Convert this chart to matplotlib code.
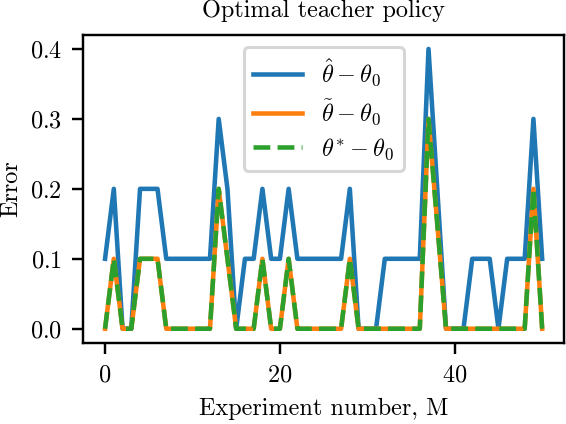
import matplotlib
matplotlib.use("Agg")
import matplotlib.pyplot as plt
import numpy as np

plt.rcParams['font.family'] = 'serif'
plt.rcParams['font.serif'] = ['cmr10']
plt.rcParams['mathtext.fontset'] = 'cm'
plt.rcParams['axes.formatter.use_mathtext'] = True
plt.rcParams['font.size'] = 8

experiments = list(range(51))

theta_hat_err = [0.1, 0.2, 0.0, 0.0, 0.2, 0.2, 0.2, 0.1, 0.1, 0.1,
                 0.1, 0.1, 0.1, 0.3, 0.2, 0.0, 0.1, 0.1, 0.2, 0.1,
                 0.1, 0.2, 0.1, 0.1, 0.1, 0.1, 0.1, 0.1, 0.2, 0.0,
                 0.0, 0.0, 0.1, 0.1, 0.1, 0.1, 0.1, 0.4, 0.2, 0.0,
                 0.0, 0.0, 0.1, 0.1, 0.1, 0.0, 0.1, 0.1, 0.1, 0.3,
                 0.1]

theta_tilde_err = [0.0, 0.1, 0.0, 0.0, 0.1, 0.1, 0.1, 0.0, 0.0, 0.0,
                   0.0, 0.0, 0.0, 0.2, 0.1, 0.0, 0.0, 0.0, 0.1, 0.0,
                   0.0, 0.1, 0.0, 0.0, 0.0, 0.0, 0.0, 0.0, 0.1, 0.0,
                   0.0, 0.0, 0.0, 0.0, 0.0, 0.0, 0.0, 0.3, 0.15, 0.0,
                   0.0, 0.0, 0.0, 0.0, 0.0, 0.0, 0.0, 0.0, 0.0, 0.2,
                   0.0]

theta_star_err = [0.0, 0.1, 0.0, 0.0, 0.1, 0.1, 0.1, 0.0, 0.0, 0.0,
                  0.0, 0.0, 0.0, 0.2, 0.1, 0.0, 0.0, 0.0, 0.1, 0.0,
                  0.0, 0.1, 0.0, 0.0, 0.0, 0.0, 0.0, 0.0, 0.1, 0.0,
                  0.0, 0.0, 0.0, 0.0, 0.0, 0.0, 0.0, 0.3, 0.15, 0.0,
                  0.0, 0.0, 0.0, 0.0, 0.0, 0.0, 0.0, 0.0, 0.0, 0.2,
                  0.0]

labels = [r'$\hat{\theta} - \theta_0$', r'$\tilde{\theta} - \theta_0$', r'$\theta^{*} - \theta_0$']
xticks = [0, 20, 40]
yticks = [0.0, 0.1, 0.2, 0.3, 0.4]

DPI = 218
fig = plt.figure(figsize=(566/DPI, 424/DPI), dpi=DPI)
ax = fig.add_subplot(111)
fig.subplots_adjust(left=0.147, right=0.9965, bottom=0.1917, top=0.9175)

ax.plot(experiments, theta_hat_err, color='#1f77b4', lw=1.5, label=labels[0])
ax.plot(experiments, theta_tilde_err, color='#ff7f0e', lw=1.5, label=labels[1])
ax.plot(experiments, theta_star_err, color='#2ca02c', lw=1.5, ls='--', label=labels[2])

ax.set_xticks(xticks)
ax.set_yticks(yticks)
ax.set_xlabel('Experiment number, M')
ax.set_ylabel('Error', labelpad=2.5)
ax.set_title('Optimal teacher policy', fontsize=8)
ax.legend(loc='upper center', labelspacing=0.35)

fig.savefig('out.png', dpi=DPI)
